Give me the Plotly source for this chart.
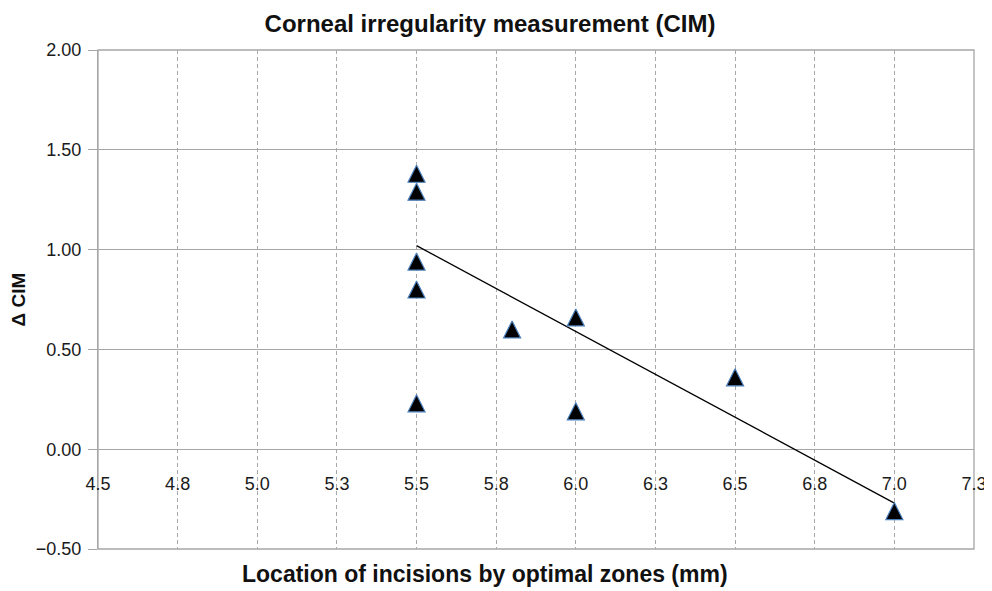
import plotly.graph_objects as go

# Data
zone_mm = [5.5, 5.5, 5.5, 5.5, 5.5, 5.8, 6.0, 6.0, 6.5, 7.0]
delta_cim = [1.38, 1.29, 0.94, 0.80, 0.23, 0.60, 0.66, 0.19, 0.36, -0.31]

trend_x = [5.5, 7.0]
trend_y = [1.02, -0.27]

x_tickvals = [4.5, 4.75, 5.0, 5.25, 5.5, 5.75, 6.0, 6.25, 6.5, 6.75, 7.0, 7.25]
x_ticktext = ["4.5", "4.8", "5.0", "5.3", "5.5", "5.8", "6.0", "6.3", "6.5", "6.8", "7.0", "7.3"]
y_tickvals = [-0.5, 0.0, 0.5, 1.0, 1.5, 2.0]

FONT = "Liberation Sans, Arial, sans-serif"
GRID = "#a6a6a6"
VGRID = "#a8a8a8"

# page body has an 8px margin: figure coordinates = screen - 8
L, R, T, B = 90, 25.5, 41.5, 49.5
PW = 992 - L - R
PH = 591 - T - B

fig = go.Figure()

fig.add_trace(go.Scatter(
    x=trend_x, y=trend_y, mode="lines",
    line=dict(color="black", width=1.3),
    showlegend=False, hoverinfo="skip",
))

fig.add_trace(go.Scatter(
    x=zone_mm, y=delta_cim, mode="markers",
    marker=dict(symbol="arrow-down", angle=180, standoff=8.5, size=17, color="black",
                line=dict(color="#4a7ebb", width=1.2)),
    showlegend=False,
))

fig.update_layout(
    width=992, height=591,
    margin=dict(l=L, r=R, t=T, b=B),
    paper_bgcolor="white", plot_bgcolor="white",
    font=dict(family=FONT, size=18, color="#1a1a1a"),
    title=dict(text="<b>Corneal irregularity measurement (CIM)</b>",
               xref="container", x=482 / 992, xanchor="center",
               yref="container", y=1 - 16 / 591, yanchor="middle",
               font=dict(family=FONT, size=24, color="#111111")),
    xaxis=dict(
        range=[4.5, 7.25], tickvals=x_tickvals, ticktext=x_ticktext,
        anchor="free", position=0.2, showline=False, zeroline=False,
        showgrid=True, gridcolor=VGRID, griddash="4px,3px", gridwidth=1,
        ticks="", ticklabelstandoff=22, tickfont=dict(size=18, color="#1a1a1a"),
        automargin=False,
    ),
    yaxis=dict(
        range=[-0.5, 2.0], tickvals=y_tickvals, tickformat=".2f",
        showgrid=True, gridcolor=GRID, gridwidth=1.2, zeroline=False,
        showline=True, linecolor=GRID, linewidth=1.3,
        ticks="outside", ticklen=9, tickcolor=GRID, tickwidth=1.2,
        ticklabelstandoff=3, automargin=False,
        tickfont=dict(size=18, color="#1a1a1a"),
        title=dict(text="<b>Δ CIM</b>", standoff=16,
                   font=dict(family=FONT, size=19, color="#111111")),
    ),
    shapes=[dict(type="rect", xref="paper", yref="paper", x0=0, x1=1, y0=0, y1=1,
                 line=dict(color=GRID, width=1.3), layer="below")],
    annotations=[dict(text="<b>Location of incisions by optimal zones (mm)</b>",
                      xref="paper", yref="paper", x=(477 - L) / PW, y=(PH + T - 567) / PH,
                      xanchor="center", yanchor="middle", showarrow=False,
                      font=dict(family=FONT, size=23, color="#111111"))],
)

fig.write_html("out.html")
